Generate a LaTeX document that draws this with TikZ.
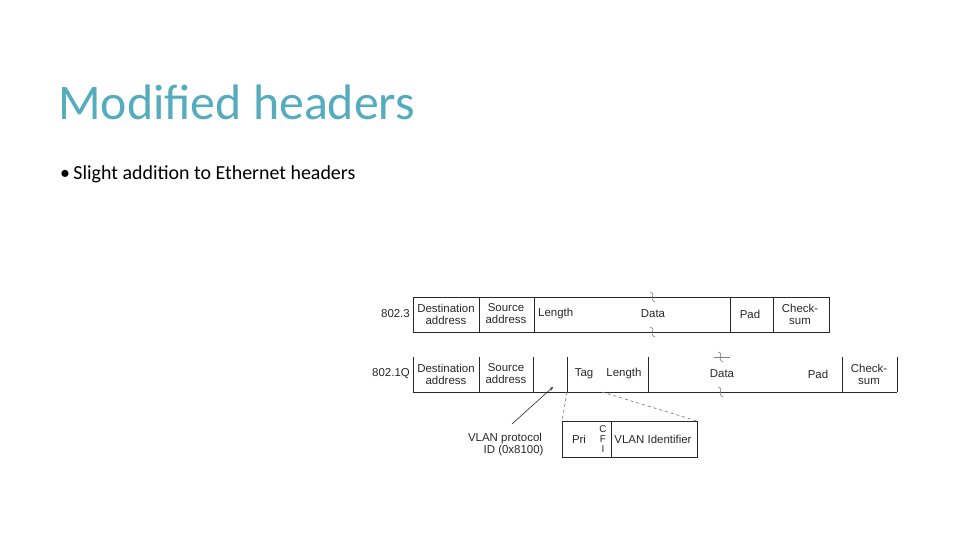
\documentclass[tikz,border=0pt]{standalone}
\usepackage{fontspec}
\setmainfont{Carlito}
\newfontfamily\diag{Liberation Sans}
\definecolor{teal}{RGB}{84,172,190}
\definecolor{ink}{RGB}{40,40,40}
\begin{document}
\begin{tikzpicture}[x=1bp,y=-1bp,
  fld/.style={font=\diag\fontsize{11.5}{12}\selectfont,text=ink,align=center,inner sep=0pt},
  ln/.style={draw=ink,line width=0.9bp},
  dsh/.style={draw=gray,dashed,line width=0.7bp},
  brk/.style={draw=gray,line width=0.6bp}]
\useasboundingbox (0,0) rectangle (960,540);
\node[anchor=base west,inner sep=0pt,text=teal,font=\fontsize{50}{50}\selectfont] (title) at (58,120) {Modified headers};
\node[anchor=base west,inner sep=0pt,font=\fontsize{20}{20}\selectfont] (bul) at (60,180) {\textbullet\,Slight addition to Ethernet headers};
% row 1
\draw[ln] (413,297) rectangle (829,332);
\foreach \x in {479,534,730,773} \draw[ln] (\x,297) -- (\x,332);
\node[fld,anchor=east] (l1) at (410,314) {802.3};
\node[fld] (d1) at (446,314) {Destination\\address};
\node[fld] (s1) at (506,314) {Source\\address};
\node[fld,anchor=west] (len1) at (538,314) {Length};
\node[fld] (data1) at (653,314) {Data};
\node[fld] (pad1) at (750,314) {Pad};
\node[fld] (c1) at (800,314) {Check-\\sum};
\foreach \y in {297,332} \draw[brk] (650,\y-5) .. controls (657,\y-3) and (648,\y+2) .. (655,\y+5);
% row 2
\draw[ln] (413,392) -- (897,392);
\foreach \x in {413,479,533,567,648,842,897} \draw[ln] (\x,357) -- (\x,392);
\node[fld,anchor=east] (l2) at (410,374) {802.1Q};
\node[fld] (d2) at (446,374) {Destination\\address};
\node[fld] (s2) at (506,374) {Source\\address};
\node[fld] (tag) at (584,374) {Tag};
\node[fld] (len2) at (624,374) {Length};
\node[fld] (data2) at (722,374) {Data};
\node[fld] (pad2) at (818,374) {Pad};
\node[fld] (c2) at (869,374) {Check-\\sum};
\draw[brk] (714,357) -- (730,357);
\foreach \y in {357,392} \draw[brk] (718,\y-5) .. controls (725,\y-3) and (716,\y+2) .. (723,\y+5);
% tag box
\draw[ln] (562,421) rectangle (697,457);
\draw[ln] (611,421) -- (611,457);
\node[fld] (pri) at (579,439) {Pri};
\node[fld,font=\diag\fontsize{10}{10.5}\selectfont] (cfi) at (603,439) {C\\F\\I};
\node[fld] (vid) at (653,439) {VLAN Identifier};
\coordinate (t1) at (567,392); \coordinate (t2) at (602,392);
\coordinate (b1) at (562,421); \coordinate (b2) at (697,421);
\draw[dsh] (t1) -- (b1);
\draw[dsh] (t2) -- (b2);
\node[fld] (vlan) at (505,445) {VLAN protocol\\\hspace*{1.5em}ID (0x8100)};
\coordinate (tip) at (553,387);
\draw[draw=ink,line width=0.6bp,-stealth] (512,424) -- (tip);
\end{tikzpicture}
\end{document}
